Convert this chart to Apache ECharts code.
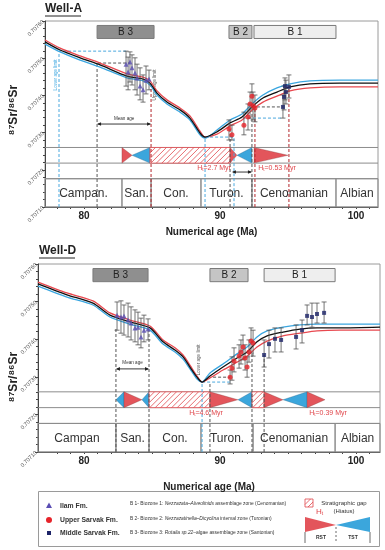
<!DOCTYPE html>
<html><head><meta charset="utf-8">
<script src="https://cdn.jsdelivr.net/npm/echarts@6/dist/echarts.min.js"></script>
<style>html,body{margin:0;padding:0;background:#fff}#c{width:385px;height:550px}</style>
</head><body><div id="c"></div>
<script>
// ================= DATA =================
const xTickLabels = [80, 90, 100];
const xMinorTicks = [78,79,80,81,82,83,84,85,86,87,88,89,90,91,92,93,94,95,96,97,98,99,100,101];
const yRange = [0.7071, 0.7076];
const aAgeRange = [77.13, 101.62];
const dAgeRange = [76.62, 101.76];

// ---- Well-A seawater curves ----
const aCurveAge = [77.13, 78.24, 79.71, 81.18, 83.16, 84.34, 84.85, 85.37, 86.10, 87.06, 87.79, 88.53, 88.90, 89.78, 90.74, 91.62, 92.35, 93.16, 94.19, 95.15, 96.62, 98.82, 101.62];
const aCurveRed   = [0.707549, 0.707527, 0.707506, 0.707487, 0.707458, 0.707449, 0.707439, 0.707412, 0.707388, 0.707366, 0.707345, 0.707304, 0.707288, 0.707296, 0.707318, 0.707334, 0.707361, 0.707382, 0.707398, 0.707412, 0.707420, 0.707423, 0.707423];
const aCurveBlack = [0.707544, 0.707522, 0.707501, 0.707482, 0.707452, 0.707444, 0.707433, 0.707406, 0.707382, 0.707361, 0.707339, 0.707299, 0.707288, 0.707302, 0.707326, 0.707342, 0.707369, 0.707393, 0.707409, 0.707423, 0.707431, 0.707433, 0.707433];
const aCurveBlue  = [0.707538, 0.707517, 0.707495, 0.707476, 0.707447, 0.707439, 0.707428, 0.707401, 0.707377, 0.707355, 0.707334, 0.707294, 0.707285, 0.707307, 0.707334, 0.707350, 0.707377, 0.707401, 0.707420, 0.707431, 0.707439, 0.707441, 0.707441];

// ---- Well-A samples [age, 87Sr/86Sr, low, high] ----
const aIlam = [
  [83.09, 0.707484, 0.707425, 0.707519], [83.24, 0.707463, 0.707415, 0.707503],
  [83.38, 0.707490, 0.707436, 0.707517], [83.53, 0.707474, 0.707428, 0.707509],
  [83.75, 0.707460, 0.707415, 0.707501], [83.90, 0.707447, 0.707401, 0.707484],
  [84.12, 0.707425, 0.707388, 0.707474], [84.34, 0.707415, 0.707382, 0.707455],
  [84.56, 0.707441, 0.707404, 0.707479], [84.78, 0.707444, 0.707415, 0.707468]];
const aUpperSarvak = [
  [90.66, 0.707310, 0.707280, 0.707334], [90.88, 0.707294, 0.707280, 0.707320],
  [91.76, 0.707320, 0.707294, 0.707355], [92.06, 0.707342, 0.707307, 0.707377],
  [92.21, 0.707377, 0.707339, 0.707409], [92.35, 0.707398, 0.707366, 0.707431],
  [92.43, 0.707372, 0.707334, 0.707409], [92.57, 0.707366, 0.707329, 0.707401]];
const aMiddleSarvak = [
  [94.63, 0.707369, 0.707339, 0.707401], [94.71, 0.707396, 0.707361, 0.707425],
  [94.78, 0.707425, 0.707388, 0.707447], [94.85, 0.707409, 0.707377, 0.707441],
  [95.07, 0.707423, 0.707393, 0.707455]];

// ---- Well-A guides ----
const aGuideBlue = [
  [[78.16, 0.7071], [78.16, 0.707519], [83.09, 0.707519]],
  [[88.90, 0.7071], [88.90, 0.707288], [91.03, 0.707288], [91.03, 0.7071]],
  [[91.69, 0.707339], [94.63, 0.707339]]];
const aGuideGray = [
  [[80.96, 0.7071], [80.96, 0.707487], [83.38, 0.707487]],
  [[90.74, 0.7071], [90.74, 0.707334]],
  [[92.35, 0.7071], [92.35, 0.707369], [94.63, 0.707369]]];
const aGuideRed = [
  [[84.93, 0.7071], [84.93, 0.707433]],
  [[92.57, 0.7071], [92.57, 0.707369]],
  [[95.07, 0.7071], [95.07, 0.707420]]];
const aArrows = [[80.96, 84.93, 0.707323], [90.88, 92.35, 0.707194]];
const aMeanAge = [[82.95, 0.707337]];
const aLowerLimit = [[77.94, 0.707455]];
const aUpperLimit = [[85.22, 0.707428]];
const aHiatus = [[89.56, 0.707205, '2.7'], [94.19, 0.707205, '0.53']];

// ---- Well-A zones, sequences, stages ----
const aZones = [[80.96, 85.15, 'B 3'], [90.66, 92.35, 'B 2'], [92.50, 98.53, 'B 1']];
const aSeq = [[82.79, 83.53, 'R'], [83.53, 84.85, 'T'], [84.85, 90.74, 'H'], [90.74, 91.25, 'R'], [91.25, 92.35, 'T'], [92.50, 95.00, 'R']];
const aStages = [[77.13, 82.79, 'Campan.'], [82.79, 84.93, 'San.'], [84.93, 88.60, 'Con.'], [88.60, 92.35, 'Turon.'], [92.35, 98.53, 'Cenomanian'], [98.53, 101.62, 'Albian']];

// ---- Well-D seawater curves ----
const dCurveAge = [76.62, 78.75, 80.66, 81.91, 83.38, 84.85, 85.81, 86.69, 87.28, 87.79, 88.31, 88.68, 89.26, 90.22, 91.25, 91.99, 92.72, 93.46, 94.63, 95.88, 97.13, 98.82, 101.76];
const dCurveRed   = [0.707552, 0.707523, 0.707502, 0.707470, 0.707451, 0.707435, 0.707398, 0.707377, 0.707358, 0.707331, 0.707302, 0.707286, 0.707297, 0.707318, 0.707339, 0.707355, 0.707379, 0.707395, 0.707409, 0.707416, 0.707422, 0.707424, 0.707424];
const dCurveBlack = [0.707547, 0.707518, 0.707496, 0.707464, 0.707446, 0.707430, 0.707393, 0.707371, 0.707353, 0.707326, 0.707299, 0.707286, 0.707302, 0.707326, 0.707350, 0.707366, 0.707393, 0.707409, 0.707419, 0.707427, 0.707430, 0.707430, 0.707432];
const dCurveBlue  = [0.707541, 0.707512, 0.707491, 0.707459, 0.707440, 0.707424, 0.707387, 0.707366, 0.707347, 0.707321, 0.707294, 0.707286, 0.707310, 0.707334, 0.707361, 0.707379, 0.707406, 0.707422, 0.707432, 0.707438, 0.707440, 0.707440, 0.707440];

// ---- Well-D samples ----
const dIlam = [
  [82.43, 0.707464, 0.707424, 0.707499], [82.72, 0.707459, 0.707416, 0.707502],
  [82.94, 0.707462, 0.707411, 0.707491], [83.24, 0.707451, 0.707406, 0.707496],
  [83.46, 0.707443, 0.707398, 0.707486], [83.75, 0.707430, 0.707393, 0.707478],
  [83.97, 0.707432, 0.707385, 0.707472], [84.19, 0.707406, 0.707377, 0.707456],
  [84.41, 0.707424, 0.707393, 0.707464], [84.71, 0.707427, 0.707398, 0.707454]];
const dUpperSarvak = [
  [90.74, 0.707299, 0.707281, 0.707318], [90.88, 0.707323, 0.707291, 0.707353],
  [91.03, 0.707342, 0.707313, 0.707377], [91.40, 0.707355, 0.707323, 0.707385],
  [91.54, 0.707366, 0.707334, 0.707398], [91.69, 0.707379, 0.707345, 0.707411],
  [91.84, 0.707350, 0.707318, 0.707385], [91.99, 0.707326, 0.707299, 0.707353],
  [92.13, 0.707366, 0.707339, 0.707398], [92.28, 0.707395, 0.707363, 0.707430],
  [92.43, 0.707390, 0.707355, 0.707424]];
const dMiddleSarvak = [
  [93.24, 0.707358, 0.707326, 0.707398], [93.60, 0.707387, 0.707350, 0.707424],
  [94.04, 0.707401, 0.707366, 0.707430], [94.49, 0.707398, 0.707366, 0.707430],
  [95.59, 0.707406, 0.707374, 0.707438], [96.03, 0.707424, 0.707390, 0.707451],
  [96.40, 0.707462, 0.707438, 0.707491], [96.76, 0.707459, 0.707432, 0.707496],
  [97.13, 0.707467, 0.707443, 0.707496], [97.65, 0.707470, 0.707443, 0.707499]];

// ---- Well-D guides ----
const dGuideBlue = [[[88.68, 0.7071], [88.68, 0.707286], [90.88, 0.707286]]];
const dGuideGray = [
  [[82.35, 0.7071], [82.35, 0.707430]],
  [[84.78, 0.7071], [84.78, 0.707430]],
  [[89.26, 0.7071], [89.26, 0.707286]],
  [[89.49, 0.707299], [90.74, 0.707299]],
  [[92.35, 0.7071], [92.35, 0.707366]],
  [[93.24, 0.7071], [93.24, 0.707358]]];
const dGuideRed = [];
const dArrows = [[82.35, 84.78, 0.707321]];
const dMeanAge = [[83.57, 0.707337]];
const dLowerLimit = [[88.46, 0.707345]];
const dUpperLimit = [];
const dHiatus = [[88.97, 0.707204, '4.6'], [97.94, 0.707204, '0.39']];

const dZones = [[80.66, 84.71, 'B 3'], [89.26, 92.06, 'B 2'], [93.24, 98.46, 'B 1']];
const dSeq = [[82.35, 82.94, 'T'], [82.94, 84.26, 'R'], [84.26, 84.78, 'T'], [84.78, 89.26, 'H'], [89.26, 91.32, 'R'], [91.32, 92.35, 'T'], [92.35, 93.24, 'H'], [93.24, 94.63, 'R'], [94.63, 96.40, 'T'], [96.40, 97.72, 'R']];
const dStages = [[76.62, 82.35, 'Campan'], [82.35, 84.78, 'San.'], [84.78, 88.60, 'Con.'], [88.60, 92.43, 'Turon.'], [92.43, 98.46, 'Cenomanian'], [98.46, 101.76, 'Albian']];

// ================= LAYOUT / STYLE =================
const ZONE_TOP = 0.707588, ZONE_BOT = 0.707553;
const BAND_TOP = 0.70726, BAND_BOT = 0.707218, STAGE_TOP = 0.707176;
const FONT = '"Liberation Sans", Arial, sans-serif';
const C_RED = '#e3555b', C_BLUE = '#3ba6dc', C_HATCH = '#e0474c', C_FRAME = '#8c8c8c';

function hatchGroup(x0, x1, yt, yb, stroke) {
  const w = x1 - x0, h = yb - yt, s = 5.5;
  const ch = [{type: 'rect', shape: {x: x0, y: yt, width: w, height: h}, style: {fill: '#fff', stroke: stroke, lineWidth: 0.8}}];
  for (let d = -h; d < w; d += s) {
    const t0 = Math.max(0, -d), t1 = Math.min(h, w - d);
    if (t1 > t0) ch.push({type: 'line', shape: {x1: x0 + d + t0, y1: yb - t0, x2: x0 + d + t1, y2: yb - t1}, style: {stroke: stroke, lineWidth: 0.8}});
  }
  return {type: 'group', children: ch};
}

function custom(g, arr, render, z) {
  return {type: 'custom', xAxisIndex: g, yAxisIndex: g, silent: true, z: z,
    data: arr.map(d => d.filter(v => typeof v === 'number')),
    renderItem: (p, api) => render(arr[p.dataIndex], api, p)};
}

function wellSeries(g, W) {
  const S = [];
  S.push(custom(g, [[W.range[0], BAND_TOP], [W.range[0], BAND_BOT], [W.range[0], STAGE_TOP]], (d, api, p) => {
    const y = api.coord([d[0], d[1]])[1], cs = p.coordSys;
    return {type: 'line', shape: {x1: cs.x, y1: y, x2: cs.x + cs.width, y2: y}, style: {stroke: C_FRAME, lineWidth: 1}};
  }, 1));
  S.push(custom(g, W.stages, (d, api) => {
    const a = api.coord([d[0], STAGE_TOP]), b = api.coord([d[1], yRange[0]]);
    return {type: 'group', children: [
      {type: 'rect', shape: {x: a[0], y: a[1], width: b[0] - a[0], height: b[1] - a[1]}, style: {fill: 'none', stroke: C_FRAME, lineWidth: 1}},
      {type: 'text', x: (a[0] + b[0]) / 2, y: (a[1] + b[1]) / 2 + 1, style: {text: d[2], font: '12px ' + FONT, fill: '#333', align: 'center', verticalAlign: 'middle'}}]};
  }, 1));
  S.push(custom(g, W.zones, (d, api) => {
    const a = api.coord([d[0], ZONE_TOP]), b = api.coord([d[1], ZONE_BOT]);
    const fill = {'B 3': '#8f8f8f', 'B 2': '#c5c5c5', 'B 1': '#eeeeee'}[d[2]];
    return {type: 'group', children: [
      {type: 'rect', shape: {x: a[0], y: a[1], width: b[0] - a[0], height: b[1] - a[1]}, style: {fill: fill, stroke: '#7a7a7a', lineWidth: 1}},
      {type: 'text', x: (a[0] + b[0]) / 2, y: (a[1] + b[1]) / 2 + 0.5, style: {text: d[2], font: '10px ' + FONT, fill: '#222', align: 'center', verticalAlign: 'middle'}}]};
  }, 2));
  S.push(custom(g, W.seq, (d, api) => {
    const t = api.coord([d[0], BAND_TOP]), b = api.coord([d[1], BAND_BOT]);
    const x0 = t[0], x1 = b[0], yt = t[1], yb = b[1], ym = (yt + yb) / 2;
    if (d[2] === 'R') return {type: 'polygon', shape: {points: [[x0, yt], [x0, yb], [x1, ym]]}, style: {fill: C_RED, stroke: '#7a3a3a', lineWidth: 0.3}};
    if (d[2] === 'T') return {type: 'polygon', shape: {points: [[x0, ym], [x1, yt], [x1, yb]]}, style: {fill: C_BLUE, stroke: '#2a5a7a', lineWidth: 0.3}};
    return hatchGroup(x0, x1, yt, yb, C_HATCH);
  }, 2));
  const guide = (lines, color) => lines.forEach(l => S.push({type: 'line', xAxisIndex: g, yAxisIndex: g, data: l, symbol: 'none', silent: true, z: 2,
    lineStyle: {color: color, width: 1, type: [3, 2]}}));
  guide(W.guideBlue, '#4aa8de'); guide(W.guideGray, '#555'); guide(W.guideRed, '#b3262b');
  S.push(custom(g, W.arrows, (d, api) => {
    const a = api.coord([d[0], d[2]]), b = api.coord([d[1], d[2]]);
    const y = a[1], h = 1.8, L = 4;
    return {type: 'group', children: [
      {type: 'line', shape: {x1: a[0] + 1, y1: y, x2: b[0] - 1, y2: y}, style: {stroke: '#222', lineWidth: 0.9}},
      {type: 'polygon', shape: {points: [[a[0], y], [a[0] + L, y - h], [a[0] + L, y + h]]}, style: {fill: '#222'}},
      {type: 'polygon', shape: {points: [[b[0], y], [b[0] - L, y - h], [b[0] - L, y + h]]}, style: {fill: '#222'}}]};
  }, 3));
  const note = (arr, text, color, rot) => S.push(custom(g, arr, (d, api) => {
    const p = api.coord([d[0], d[1]]);
    return {type: 'text', x: p[0], y: p[1], rotation: rot, style: {text: text, font: '4.6px ' + FONT, fill: color, align: 'center', verticalAlign: 'middle'}};
  }, 3));
  note(W.meanAge, 'Mean age', '#333', 0);
  note(W.lowerLimit, 'Lower age limit', W.lowerColor, Math.PI / 2);
  note(W.upperLimit, 'Upper age limit', '#555', Math.PI / 2);
  S.push(custom(g, W.hiatus, (d, api) => {
    const p = api.coord([d[0], d[1]]);
    return {type: 'text', x: p[0], y: p[1], style: {text: '{m|H}{s|t}{m|=' + d[2] + ' Myr}', align: 'center', verticalAlign: 'middle',
      rich: {m: {font: '7px ' + FONT, fill: C_HATCH}, s: {font: '4.5px ' + FONT, fill: C_HATCH, padding: [3, 0, 0, 0]}}}};
  }, 3));
  const curve = (vals, color, z) => S.push({type: 'line', xAxisIndex: g, yAxisIndex: g, data: W.age.map((a, i) => [a, vals[i]]),
    symbol: 'none', smooth: 0.25, silent: true, z: z, lineStyle: {color: color, width: 1.3}});
  curve(W.red, '#e8484f', 4); curve(W.blue, '#3aa6e0', 4); curve(W.black, '#111', 5);
  const groups = [[W.ilam, 'triangle', '#5a4db3', 5], [W.upper, 'circle', '#e62329', 5], [W.middle, 'rect', '#1d2468', 4]];
  groups.forEach(([arr, sym, col, size]) => {
    S.push(custom(g, arr, (d, api) => {
      const t = api.coord([d[0], d[3]]), b = api.coord([d[0], d[2]]), c = 2.5;
      const st = {stroke: '#505050', lineWidth: 0.8};
      return {type: 'group', children: [
        {type: 'line', shape: {x1: t[0], y1: t[1], x2: b[0], y2: b[1]}, style: st},
        {type: 'line', shape: {x1: t[0] - c, y1: t[1], x2: t[0] + c, y2: t[1]}, style: st},
        {type: 'line', shape: {x1: b[0] - c, y1: b[1], x2: b[0] + c, y2: b[1]}, style: st}]};
    }, 6));
    S.push({type: 'scatter', xAxisIndex: g, yAxisIndex: g, data: arr.map(d => [d[0], d[1]]), symbol: sym, symbolSize: size,
      itemStyle: {color: col}, silent: true, z: 7});
  });
  return S;
}

const wells = [
  {range: aAgeRange, age: aCurveAge, red: aCurveRed, black: aCurveBlack, blue: aCurveBlue,
   ilam: aIlam, upper: aUpperSarvak, middle: aMiddleSarvak,
   guideBlue: aGuideBlue, guideGray: aGuideGray, guideRed: aGuideRed, arrows: aArrows,
   meanAge: aMeanAge, lowerLimit: aLowerLimit, upperLimit: aUpperLimit, lowerColor: '#3aa6e0', hiatus: aHiatus,
   zones: aZones, seq: aSeq, stages: aStages},
  {range: dAgeRange, age: dCurveAge, red: dCurveRed, black: dCurveBlack, blue: dCurveBlue,
   ilam: dIlam, upper: dUpperSarvak, middle: dMiddleSarvak,
   guideBlue: dGuideBlue, guideGray: dGuideGray, guideRed: dGuideRed, arrows: dArrows,
   meanAge: dMeanAge, lowerLimit: dLowerLimit, upperLimit: dUpperLimit, lowerColor: '#555', hiatus: dHiatus,
   zones: dZones, seq: dSeq, stages: dStages}];

const nameGaps = [20, 30];
const xAxes = wells.map((W, g) => ({
  gridIndex: g, type: 'value', min: W.range[0], max: W.range[1],
  axisLine: {show: true, lineStyle: {color: '#444', width: 1}},
  axisTick: {show: true, customValues: xMinorTicks, length: 2, lineStyle: {color: '#444'}},
  axisLabel: {customValues: xTickLabels, fontWeight: 'bold', fontSize: 10, color: '#222', margin: 4, fontFamily: 'Liberation Sans'},
  splitLine: {show: false},
  name: 'Numerical age (Ma)', nameLocation: 'middle', nameGap: nameGaps[g],
  nameTextStyle: {fontWeight: 'bold', fontSize: 10, color: '#222', fontFamily: 'Liberation Sans'}
}));
const yAxes = wells.map((W, g) => ({
  gridIndex: g, type: 'value', min: yRange[0], max: yRange[1], interval: 0.0001,
  axisLine: {show: true, lineStyle: {color: '#444'}},
  axisTick: {show: true, length: 3, lineStyle: {color: '#444'}},
  minorTick: {show: true, splitNumber: 5, length: 2, lineStyle: {color: '#444'}},
  axisLabel: {rotate: 45, fontSize: 5.6, color: '#555', margin: 2, formatter: v => v.toFixed(5), fontFamily: 'Liberation Sans'},
  splitLine: {show: false}
}));

const legHatch = hatchGroup(305, 313, 499, 507, C_HATCH);
const series = [].concat(wellSeries(0, wells[0]), wellSeries(1, wells[1]));

const graphic = [
  {type: 'text', x: 45, y: 3, style: {text: 'Well-A', font: 'bold 12px ' + FONT, fill: '#222'}},
  {type: 'line', shape: {x1: 45, y1: 16, x2: 81, y2: 16}, style: {stroke: '#222', lineWidth: 1}},
  {type: 'text', x: 39, y: 245, style: {text: 'Well-D', font: 'bold 12px ' + FONT, fill: '#222'}},
  {type: 'line', shape: {x1: 39, y1: 258, x2: 75, y2: 258}, style: {stroke: '#222', lineWidth: 1}},
  {type: 'text', x: 14, y: 110, rotation: Math.PI / 2, style: {text: '⁸⁷Sr/⁸⁶Sr', font: 'bold 12px ' + FONT, fill: '#222', align: 'center', verticalAlign: 'middle'}},
  {type: 'text', x: 14, y: 377, rotation: Math.PI / 2, style: {text: '⁸⁷Sr/⁸⁶Sr', font: 'bold 12px ' + FONT, fill: '#222', align: 'center', verticalAlign: 'middle'}},
  {type: 'rect', shape: {x: 38.5, y: 491.5, width: 341, height: 55}, style: {fill: 'none', stroke: '#9a9a9a', lineWidth: 1}},
  {type: 'polygon', shape: {points: [[46, 508], [52, 508], [49, 502.5]]}, style: {fill: '#5a4db3'}},
  {type: 'circle', shape: {cx: 49, cy: 520, r: 3}, style: {fill: '#e62329'}},
  {type: 'rect', shape: {x: 47, y: 531, width: 4, height: 4}, style: {fill: '#1d2468'}},
  {type: 'text', x: 60, y: 506, style: {text: 'Ilam Fm.', font: 'bold 6.8px ' + FONT, fill: '#333', verticalAlign: 'middle'}},
  {type: 'text', x: 60, y: 520, style: {text: 'Upper Sarvak Fm.', font: 'bold 6.8px ' + FONT, fill: '#333', verticalAlign: 'middle'}},
  {type: 'text', x: 60, y: 533, style: {text: 'Middle Sarvak Fm.', font: 'bold 6.8px ' + FONT, fill: '#333', verticalAlign: 'middle'}},
  {type: 'text', x: 130, y: 504, style: {text: '{n|B 1- Biozone 1: }{i|Nezzazata–Alveolinids}{n| assemblage zone (Cenomanian)}', verticalAlign: 'middle',
    rich: {n: {font: '4.9px ' + FONT, fill: '#333'}, i: {font: 'italic 4.9px ' + FONT, fill: '#333'}}}},
  {type: 'text', x: 130, y: 519, style: {text: '{n|B 2- Biozone 2: }{i|Nezzazatinella–Dicyclina}{n| interval zone (Turonian)}', verticalAlign: 'middle',
    rich: {n: {font: '4.9px ' + FONT, fill: '#333'}, i: {font: 'italic 4.9px ' + FONT, fill: '#333'}}}},
  {type: 'text', x: 130, y: 533, style: {text: '{n|B 3- Biozone 3: }{i|Rotalia sp.22}{n|–algae assemblage zone (Santonian)}', verticalAlign: 'middle',
    rich: {n: {font: '4.9px ' + FONT, fill: '#333'}, i: {font: 'italic 4.9px ' + FONT, fill: '#333'}}}},
  legHatch,
  {type: 'text', x: 344, y: 503, style: {text: 'Stratigraphic gap', font: '6px ' + FONT, fill: '#333', align: 'center', verticalAlign: 'middle'}},
  {type: 'text', x: 344, y: 511, style: {text: '(Hiatus)', font: '6px ' + FONT, fill: '#333', align: 'center', verticalAlign: 'middle'}},
  {type: 'text', x: 316, y: 512, style: {text: '{m|H}{s|t}', verticalAlign: 'middle', rich: {m: {font: '8px ' + FONT, fill: C_HATCH}, s: {font: '5px ' + FONT, fill: C_HATCH, padding: [3, 0, 0, 0]}}}},
  {type: 'polygon', shape: {points: [[305, 517], [305, 532], [336, 525]]}, style: {fill: C_RED}},
  {type: 'polygon', shape: {points: [[336, 525], [370, 517], [370, 532]]}, style: {fill: C_BLUE}},
  {type: 'line', shape: {x1: 305, y1: 532, x2: 305, y2: 543}, style: {stroke: '#444', lineWidth: 0.8}},
  {type: 'line', shape: {x1: 370, y1: 532, x2: 370, y2: 543}, style: {stroke: '#444', lineWidth: 0.8}},
  {type: 'line', shape: {x1: 336, y1: 527, x2: 336, y2: 543}, style: {stroke: '#444', lineWidth: 0.8, lineDash: [2, 2]}},
  {type: 'text', x: 321, y: 538, style: {text: 'RST', font: 'bold 5px ' + FONT, fill: '#333', align: 'center', verticalAlign: 'middle'}},
  {type: 'text', x: 353, y: 538, style: {text: 'TST', font: 'bold 5px ' + FONT, fill: '#333', align: 'center', verticalAlign: 'middle'}}
];

const chart = echarts.init(document.getElementById('c'));
chart.setOption({
  animation: false,
  backgroundColor: '#fff',
  textStyle: {fontFamily: FONT},
  grid: [
    {left: 45, top: 21, width: 333, height: 186, show: true, borderColor: '#9a9a9a', borderWidth: 1},
    {left: 38, top: 264, width: 342, height: 188, show: true, borderColor: '#9a9a9a', borderWidth: 1}
  ],
  xAxis: xAxes, yAxis: yAxes, series: series, graphic: graphic
});
</script></body></html>
